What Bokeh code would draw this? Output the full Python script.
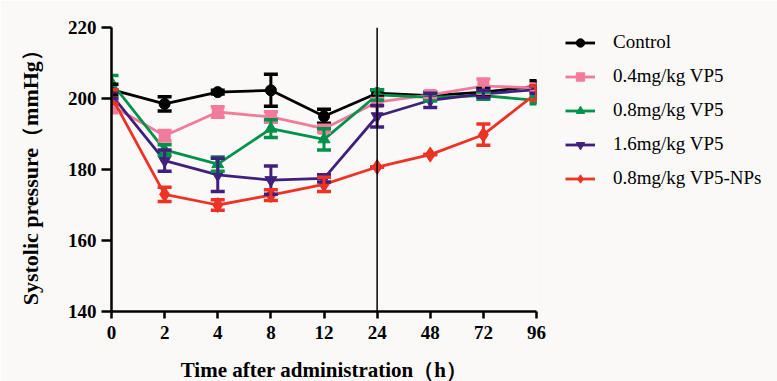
from bokeh.plotting import figure
from bokeh.models import (Range1d, FixedTicker, Whisker, TeeHead, ColumnDataSource,
                          Legend, LegendItem, Span)
from bokeh.embed import file_html
from bokeh.resources import INLINE

# ---- data ----
time_labels = ["0", "2", "4", "8", "12", "24", "48", "72", "96"]
y_ticks = [140, 160, 180, 200, 220]

series_names = ["Control", "0.4mg/kg VP5", "0.8mg/kg VP5", "1.6mg/kg VP5", "0.8mg/kg VP5-NPs"]

control = [202.5, 198.5, 201.8, 202.3, 195.0, 201.5, 200.8, 201.8, 203.5]
control_err = [1.5, 2.0, 0.5, 4.5, 2.0, 1.0, 1.0, 1.0, 1.5]

vp5_04 = [198.0, 189.5, 196.2, 194.8, 191.5, 199.0, 201.0, 203.5, 203.0]
vp5_04_err = [2.0, 1.5, 1.5, 1.5, 1.0, 1.0, 1.0, 2.0, 1.0]

vp5_08 = [204.5, 185.5, 181.5, 191.5, 188.5, 201.0, 200.3, 200.8, 199.5]
vp5_08_err = [2.0, 1.5, 2.0, 2.5, 3.0, 1.5, 1.0, 1.0, 1.0]

vp5_16 = [201.0, 182.5, 178.5, 177.0, 177.5, 195.0, 199.5, 201.3, 202.5]
vp5_16_err = [1.0, 3.0, 4.7, 4.0, 1.0, 3.0, 2.0, 1.0, 1.0]

vp5_nps = [200.5, 173.0, 170.0, 172.8, 175.8, 180.7, 184.2, 189.8, 201.5]
vp5_nps_err = [2.0, 2.0, 1.5, 1.5, 2.0, 0.0, 0.0, 3.0, 2.0]

# ---- style ----
BG = "#fbf9f8"
SERIF = "Liberation Serif"
colors = ["#000000", "#f27b9b", "#00924a", "#40207c", "#ec3324"]
markers = ["circle", "square", "triangle", "inverted_triangle", "diamond"]
msizes = [11, 11, 12, 12, 15]
values = [control, vp5_04, vp5_08, vp5_16, vp5_nps]
errors = [control_err, vp5_04_err, vp5_08_err, vp5_16_err, vp5_nps_err]

x_idx = list(range(len(time_labels)))

p = figure(frame_width=425, frame_height=284,
           x_range=Range1d(0, len(time_labels) - 1),
           y_range=Range1d(140, 220),
           output_backend="svg", toolbar_location=None,
           min_border_left=111, min_border_right=0,
           min_border_top=27, min_border_bottom=68,
           background_fill_color=BG, border_fill_color=BG)
p.outline_line_color = None
p.grid.visible = False

# axes
for ax in (p.xaxis[0], p.yaxis[0]):
    ax.axis_line_width = 2.5
    ax.axis_line_color = "black"
    ax.major_tick_line_width = 2.5
    ax.major_tick_line_color = "black"
    ax.major_tick_in = 0
    ax.minor_tick_line_color = None
    ax.major_label_text_font = SERIF
    ax.major_label_text_font_style = "bold"
    ax.major_label_text_font_size = "19px"
    ax.major_label_text_color = "black"
    ax.axis_label_text_font = SERIF
    ax.axis_label_text_font_style = "bold"
    ax.axis_label_text_color = "black"

p.xaxis.ticker = FixedTicker(ticks=x_idx)
p.xaxis.major_label_overrides = {i: lab for i, lab in enumerate(time_labels)}
p.xaxis.major_tick_out = 7
p.xaxis.major_label_standoff = 7
p.xaxis.axis_label = "Time after administration（h）"
p.xaxis.axis_label_text_font_size = "21px"
p.xaxis.axis_label_standoff = 16

p.yaxis.ticker = FixedTicker(ticks=y_ticks)
p.yaxis.major_tick_out = 10
p.yaxis.major_label_standoff = 5
p.yaxis.axis_label = "Systolic  pressure（mmHg）"
p.yaxis.axis_label_text_font_size = "22px"
p.yaxis.axis_label_standoff = 22

# vertical line at 24 h
p.add_layout(Span(location=time_labels.index("24"), dimension="height",
                  line_color="black", line_width=1.5))

items = []
for name, ys, es, c, m, s in zip(series_names, values, errors, colors, markers, msizes):
    src = ColumnDataSource(dict(x=x_idx, y=ys,
                                upper=[a + b for a, b in zip(ys, es)],
                                lower=[a - b for a, b in zip(ys, es)]))
    w = Whisker(base="x", upper="upper", lower="lower", source=src, dimension="height",
                line_color=c, line_width=3, level="glyph",
                upper_head=TeeHead(size=14, line_color=c, line_width=3.5),
                lower_head=TeeHead(size=14, line_color=c, line_width=3.5))
    p.add_layout(w)
    ln = p.line("x", "y", source=src, line_color=c, line_width=2.8)
    sc = p.scatter("x", "y", source=src, marker=m, size=s, fill_color=c, line_color=c)
    items.append(LegendItem(label=name, renderers=[ln, sc]))

legend = Legend(items=items, location=(29, 122))
legend.background_fill_alpha = 0
legend.border_line_color = None
legend.padding = 0
legend.margin = 0
legend.spacing = 12
legend.glyph_width = 30
legend.glyph_height = 21
legend.label_height = 21
legend.label_standoff = 18
legend.label_text_font = SERIF
legend.label_text_font_size = "19px"
legend.label_text_color = "black"
p.add_layout(legend, "right")

open("out.html", "w").write(file_html(p, INLINE))
